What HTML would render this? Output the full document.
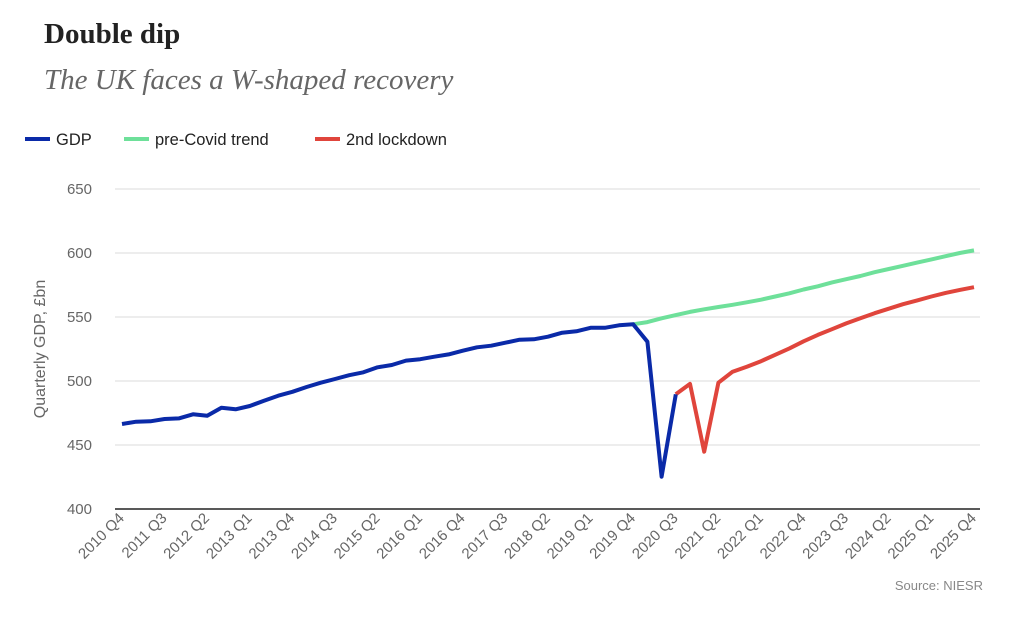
<!DOCTYPE html>
<html><head><meta charset="utf-8"><style>
body{margin:0;background:#fff;width:1024px;height:626px;overflow:hidden;font-family:"Liberation Sans",sans-serif}
svg text{font-family:"Liberation Sans",sans-serif}
svg text.serif{font-family:"Liberation Serif",serif}
</style></head><body>
<svg width="1024" height="626" xmlns="http://www.w3.org/2000/svg">
<text class="serif" x="44" y="43" font-weight="bold" font-size="29" fill="#222">Double dip</text>
<text class="serif" x="44" y="89" font-style="italic" font-size="29" fill="#666">The UK faces a W-shaped recovery</text>
<g font-size="16.5" fill="#222">
<g><line x1="25" y1="139" x2="50" y2="139" stroke="#0a2aa8" stroke-width="4"/><text x="56" y="145">GDP</text></g>
<g><line x1="124" y1="139" x2="149" y2="139" stroke="#6ee09a" stroke-width="4"/><text x="155" y="145">pre-Covid trend</text></g>
<g><line x1="315" y1="139" x2="340" y2="139" stroke="#e0453c" stroke-width="4"/><text x="346" y="145">2nd lockdown</text></g>
</g>
<g id="grid"></g><g id="xlabels"></g><g id="lines"></g>
<text transform="translate(45,349) rotate(-90)" text-anchor="middle" font-size="16" fill="#666">Quarterly GDP, £bn</text>
<text x="983" y="590" text-anchor="end" font-size="13" fill="#888">Source: NIESR</text>
</svg>
<script>
const yTicks=[400,450,500,550,600,650];
const xLabels=["2010 Q4","2011 Q3","2012 Q2","2013 Q1","2013 Q4","2014 Q3","2015 Q2","2016 Q1","2016 Q4","2017 Q3","2018 Q2","2019 Q1","2019 Q4","2020 Q3","2021 Q2","2022 Q1","2022 Q4","2023 Q3","2024 Q2","2025 Q1","2025 Q4"];
const gdp=[466.4,468.2,468.5,470.3,470.8,474,472.9,479.1,477.9,480.5,484.6,488.5,491.6,495.3,498.7,501.6,504.5,506.8,510.7,512.5,515.9,517,519,520.8,523.7,526.3,527.6,529.9,532.3,532.6,534.6,537.7,538.8,541.6,541.6,543.5,544.3,530.7,425.2,489.6];
const trendStart=36;
const trend=[544.3,546,549,551.5,554,556,557.8,559.5,561.5,563.5,566,568.5,571.5,574,577,579.5,582,585,587.5,590,592.5,595,597.5,600,602];
const lockStart=39;
const lockdown=[489.6,497.7,444.8,498.7,507.3,511.2,515.5,520.5,525.5,531,536,540.5,545,549,553,556.5,560,563,566,568.8,571.2,573.3];
const NS="http://www.w3.org/2000/svg";
const X=i=>122+i*(974-122)/60;
const Y=v=>509-(v-400)*64/50;
function mk(t,a,p){const e=document.createElementNS(NS,t);for(const k in a)e.setAttribute(k,a[k]);p.appendChild(e);return e;}
const grid=document.getElementById('grid');
yTicks.forEach(v=>{
 const l=mk('line',{x1:115,x2:980,y1:Y(v),y2:Y(v),stroke:v===400?'#222':'#e2e2e2','stroke-width':v===400?1.5:1.2},grid);
 
 
 const t=mk('text',{x:92,y:Y(v)+5,'text-anchor':'end','font-size':15,fill:'#666'},grid);
 t.textContent=v;
 
 
});
const xl=document.getElementById('xlabels');
xLabels.forEach((s,i)=>{
 const x=X(i*3)+3,y=519;
 const t=mk('text',{transform:`translate(${x},${y}) rotate(-45)`,'text-anchor':'end','font-size':15,fill:'#666'},xl);
 t.textContent=s;
 
 
});
const lg=document.getElementById('lines');
function series(arr,start,color,name){
 const d=arr.map((v,i)=>(i?'L':'M')+X(start+i).toFixed(1)+','+Y(v).toFixed(1)).join('');
 const p=mk('path',{d:d,fill:'none',stroke:color,'stroke-width':4,'stroke-linejoin':'round'},lg);
 
 
}
series(trend,trendStart,'#6ee09a','pre-covid-trend-line');
series(lockdown,lockStart,'#e0453c','second-lockdown-line');
series(gdp,0,'#0a2aa8','gdp-line');
</script>
</body></html>
